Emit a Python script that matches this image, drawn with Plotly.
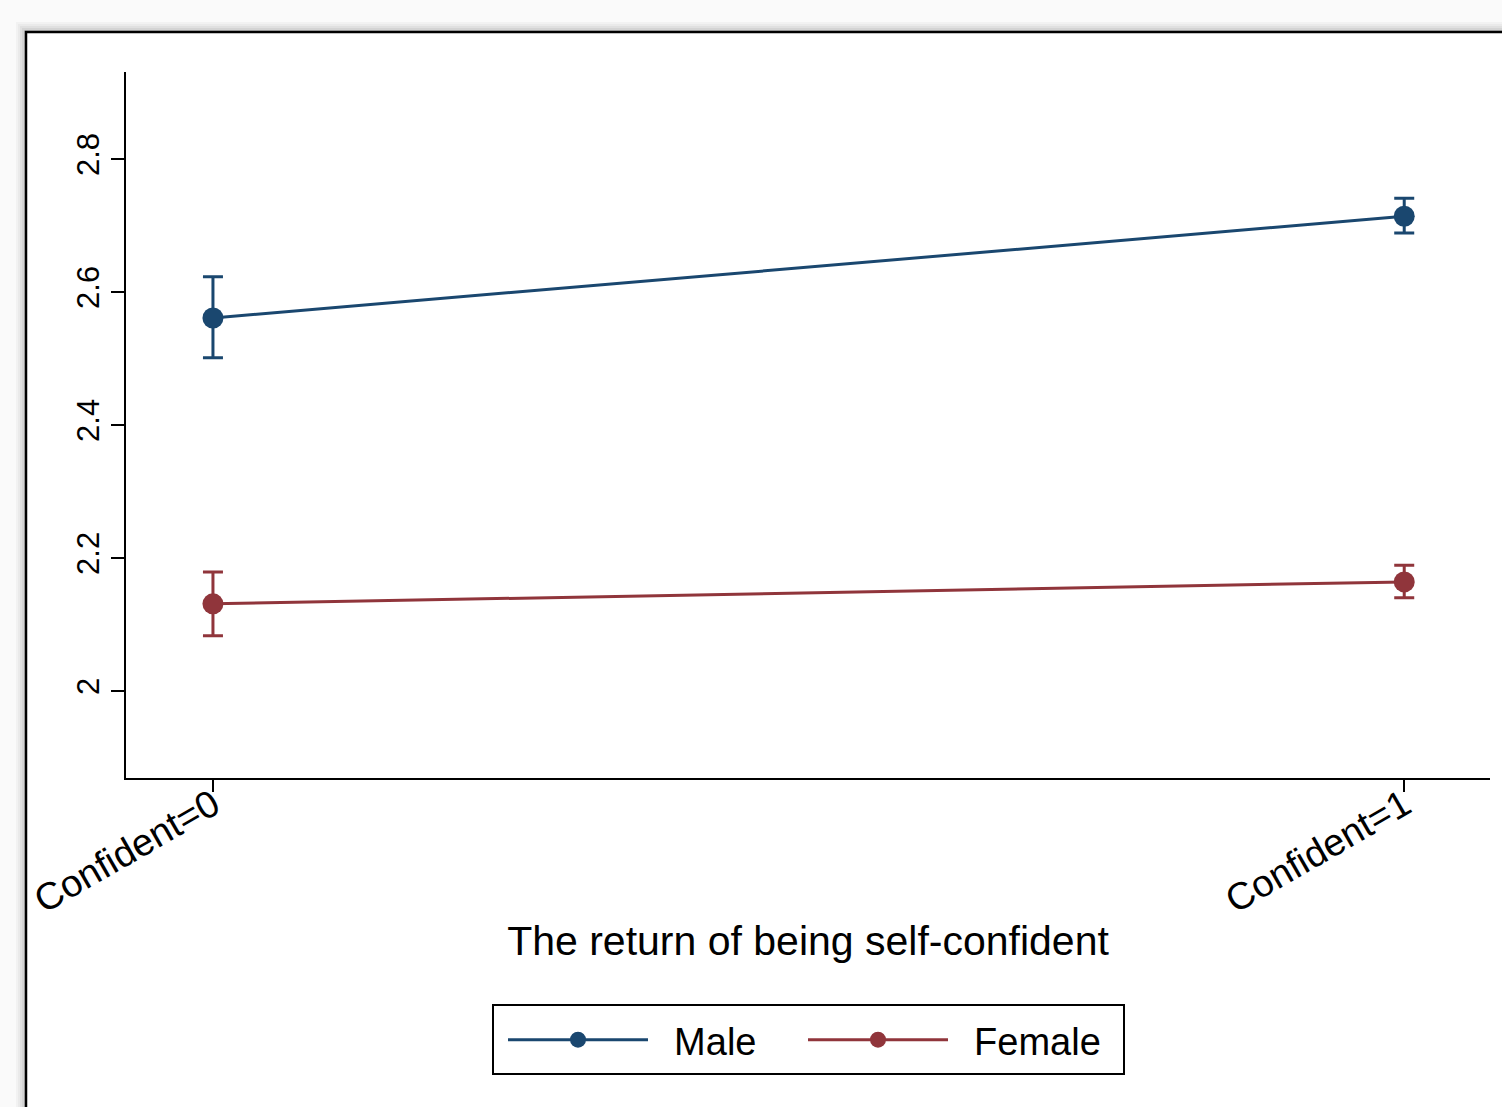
import plotly.graph_objects as go

# Predicted values with 95% confidence intervals by gender
categories = ["Confident=0", "Confident=1"]
male_mean = [2.561, 2.714]
male_lo = [2.501, 2.689]
male_hi = [2.623, 2.741]
female_mean = [2.131, 2.164]
female_lo = [2.083, 2.140]
female_hi = [2.179, 2.189]
y_ticks = [2.0, 2.2, 2.4, 2.6, 2.8]
y_tick_text = ["2", "2.2", "2.4", "2.6", "2.8"]

W, H = 1502, 1107
L, R, T, B = 126, 12, 72, 329
PW, PH = W - L - R, H - T - B

MALE = "#1a476f"
FEMALE = "#90353b"
FONT = "Liberation Sans, Arial, sans-serif"

xpos = list(range(len(categories)))
GAP = "\u00a0\u00a0"  # space between legend key and label


def series(name, mean, lo, hi, color):
    return go.Scatter(
        x=xpos, y=mean, name=GAP + name, mode="lines+markers",
        line=dict(color=color, width=3),
        marker=dict(color=color, size=21),
        error_y=dict(
            type="data", symmetric=False,
            array=[h - m for h, m in zip(hi, mean)],
            arrayminus=[m - l for m, l in zip(mean, lo)],
            color=color, thickness=3, width=10,
        ),
    )


fig = go.Figure()
fig.add_trace(series("Male", male_mean, male_lo, male_hi, MALE))
fig.add_trace(series("Female", female_mean, female_lo, female_hi, FEMALE))


def px_x(px):
    return (px - L) / PW


def px_y(py):
    return (H - B - py) / PH


# Soft drop shadow around the graph region, then the framed white region
shapes = []
for i, op in enumerate([0.03, 0.03, 0.04, 0.05, 0.06]):
    d = 10 - 2 * i
    shapes.append(dict(
        type="rect", xref="paper", yref="paper", layer="below",
        x0=px_x(26 - d), x1=px_x(1530), y0=px_y(1130), y1=px_y(32 - d),
        line=dict(width=0), fillcolor=f"rgba(0,0,0,{op})",
    ))
shapes.append(dict(
    type="rect", xref="paper", yref="paper", layer="below",
    x0=px_x(26), x1=px_x(1530), y0=px_y(1130), y1=px_y(32),
    line=dict(color="black", width=2.5), fillcolor="white",
))
# Legend frame
shapes.append(dict(
    type="rect", xref="paper", yref="paper", layer="above",
    x0=px_x(493), x1=px_x(1124), y0=px_y(1074), y1=px_y(1005),
    line=dict(color="black", width=2), fillcolor="rgba(0,0,0,0)",
))

fig.update_layout(
    width=W, height=H,
    margin=dict(l=L, r=R, t=T, b=B, autoexpand=False),
    paper_bgcolor="#fafafa",
    plot_bgcolor="white",
    font=dict(family=FONT, color="black"),
    shapes=shapes,
    showlegend=True,
    legend=dict(
        orientation="h", x=px_x(503), xanchor="left",
        y=px_y(1040), yanchor="middle",
        borderwidth=0, bgcolor="rgba(0,0,0,0)",
        font=dict(size=38, family=FONT, color="black"),
        itemwidth=140, entrywidth=145, itemclick=False, tracegroupgap=0,
    ),
    xaxis=dict(
        range=[-0.073, 1.072], tickvals=xpos, ticktext=categories,
        tickangle=-30, tickfont=dict(size=38, family=FONT, color="black"),
        ticks="outside", ticklen=12, tickwidth=2, tickcolor="black",
        ticklabelstandoff=-24,
        showline=True, linecolor="black", linewidth=2,
        showgrid=False, zeroline=False, automargin=False,
        title=dict(text="The return of being self-confident",
                   font=dict(size=41, family=FONT, color="black"), standoff=6),
    ),
    yaxis=dict(
        range=[1.869, 2.931], tickvals=y_ticks, ticktext=y_tick_text,
        tickangle=-90, tickfont=dict(size=31, family=FONT, color="black"),
        ticks="outside", ticklen=13, tickwidth=2, tickcolor="black",
        showline=True, linecolor="black", linewidth=2,
        showgrid=False, zeroline=False, automargin=False,
    ),
)

fig.write_html("out.html")
